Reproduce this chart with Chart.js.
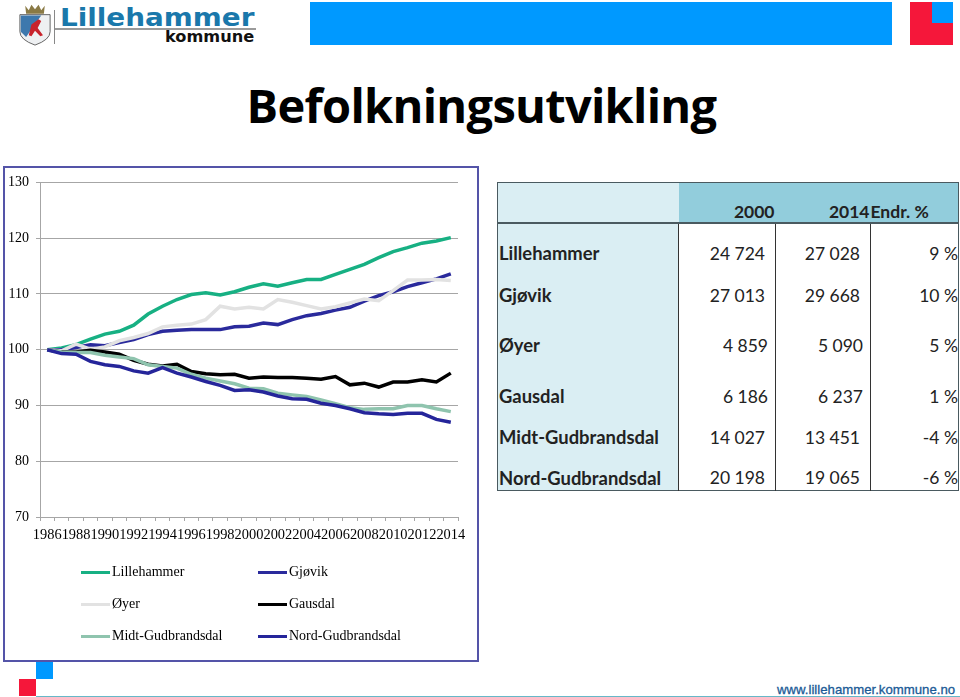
<!DOCTYPE html>
<html lang="no">
<head>
<meta charset="utf-8">
<title>Befolkningsutvikling</title>
<style>
html, body { margin: 0; padding: 0; background: #fff; }
body { position: relative; width: 960px; height: 697px; overflow: hidden; }
.abs { position: absolute; }
#tittel { left: 0; width: 963px; top: 72px; text-align: center; font: bold 47px/66px "Open Sans", sans-serif; letter-spacing: -0.7px; color: #000; }
#ramme { left: 3px; top: 166px; width: 472px; height: 492px; border: 2px solid #5454a8; }
#grafikk { left: 4px; top: 167px; }
#forklaring { left: 0; top: 0; font: 14px "Liberation Serif", serif; color: #000; }
.f-linje { position: absolute; width: 29px; height: 3px; }
.f-tekst { position: absolute; line-height: 16px; white-space: nowrap; }
#tabell { left: 497px; top: 182px; width: 462px; border-collapse: collapse; table-layout: fixed; font: 17.5px "Lato", sans-serif; color: #222; border: 1px solid #4a5a60; }
#tabell td { padding: 0; vertical-align: middle; white-space: nowrap; text-align: right; overflow: visible; }
#tabell tr.hode td { height: 39px; background: #92cddc; font-weight: bold; vertical-align: bottom; border-bottom: 2px solid #4a5a60; }
#tabell td.navn, #tabell tr.hode td.navn { background: #daeef3; font-weight: bold; font-size: 18.4px; text-align: left; padding-left: 1px; }
#tabell td.tall { border-left: 1px solid #333; }
#tabell td.endr { border-left: 1px solid #333; }
</style>
</head>
<body>
<!-- logo -->
<svg class="abs" style="left:19px;top:3px" width="32" height="43" viewBox="0 0 36 48" preserveAspectRatio="none">
  <path d="M7 3 L11 8 L14 2 L18 7 L22 2 L25 8 L29 3 L28 12 L8 12 Z" fill="#8a7a45"/>
  <path d="M1 13 H35 V32 Q35 41 18 47 Q1 41 1 32 Z" fill="#eef0f2" stroke="#555" stroke-width="1"/>
  <path d="M2 14 H25 L8 38 L2 32 Z" fill="#3d78ad"/>
  <path d="M14 24 L22 18 L25 20 L21 28 L27 36 L24 37 L18 31 L14 37 L11 36 Z" fill="#c8232c"/>
</svg>
<div class="abs" style="left:54px;top:10px;width:1px;height:34px;background:#888"></div>
<div class="abs" style="left:60px;top:4px;font:bold 24px/28px 'DejaVu Sans',sans-serif;color:#1a78ab;transform:scaleX(1.16);transform-origin:0 0;white-space:nowrap">Lillehammer</div>
<div class="abs" style="left:55px;top:28px;width:201px;height:2px;background:#9a9a9a"></div>
<div class="abs" style="left:165px;top:27px;font:bold 16.2px/20px 'DejaVu Sans',sans-serif;color:#111">kommune</div>
<div class="abs" style="left:310px;top:2px;width:582px;height:43px;background:#0099ff"></div>
<div class="abs" style="left:910px;top:2px;width:43px;height:43px;background:#f5173a"></div>
<div class="abs" style="left:932px;top:2px;width:21px;height:21px;background:#0099ff"></div>

<div id="tittel" class="abs">Befolkningsutvikling</div>

<div id="ramme" class="abs"></div>
<div id="grafikk" class="abs"><canvas id="grafikkCanvas" width="472" height="400"></canvas></div>
<div id="forklaring" class="abs"></div>

<table id="tabell" class="abs"></table>

<div class="abs" style="left:36px;top:662px;width:17px;height:17px;background:#0099ff"></div>
<div class="abs" style="left:19px;top:679px;width:17px;height:17px;background:#f5173a"></div>
<div class="abs" style="left:36px;top:696px;width:924px;height:1px;background:#66b8c8"></div>
<div class="abs" style="left:777px;top:682px;font:13.2px/16px 'Liberation Sans',sans-serif;color:#1a5a96;-webkit-text-stroke:.3px #1a5a96;white-space:nowrap">www.lillehammer.kommune.no</div>

<script src="https://cdn.jsdelivr.net/npm/chart.js@4"></script>
<script>
// Data lest av bildet
const aar = ['1986','1987','1988','1989','1990','1991','1992','1993','1994','1995','1996','1997','1998','1999','2000',
    '2001','2002','2003','2004','2005','2006','2007','2008','2009','2010','2011','2012','2013','2014'];
const lillehammer = [100,100.3,100.9,101.9,102.8,103.3,104.4,106.4,107.8,109,109.9,110.2,109.8,110.4,111.2,
    111.8,111.4,112,112.6,112.6,113.5,114.4,115.3,116.5,117.6,118.3,119.1,119.5,120.1];
const gjovik = [100,100,100.4,100.9,100.7,101.3,101.8,102.7,103.3,103.5,103.6,103.6,103.6,104.1,104.2,
    104.8,104.5,105.4,106.1,106.5,107.1,107.6,108.7,109.7,110.4,111.3,112,112.7,113.6];
const oyer = [100,99.8,101,100.1,100.5,101.6,102.2,102.9,104.1,104.4,104.6,105.4,107.8,107.3,107.6,
    107.3,109,108.5,107.9,107.3,107.7,108.4,109.1,108.8,110.6,112.5,112.5,112.6,112.4];
const gausdal = [100,99.6,99.6,99.9,99.6,99.2,98.1,97.4,97.1,97.4,96.1,95.7,95.5,95.6,94.9,
    95.1,95,95,94.9,94.7,95.2,93.7,94,93.3,94.2,94.2,94.6,94.2,95.8];
const midtGudbrandsdal = [100,99.6,99.5,99.5,99,98.7,98.4,97.3,97,96.7,95.6,94.9,94.4,93.9,93.1,
    93,92.2,91.9,91.6,91,90.3,89.6,89.3,89.4,89.4,90,90,89.4,88.9];
const nordGudbrandsdal = [100,99.3,99.2,97.9,97.3,97,96.2,95.8,96.8,95.8,95.1,94.3,93.6,92.7,92.8,
    92.4,91.7,91.2,91.1,90.4,90,89.4,88.7,88.5,88.4,88.6,88.6,87.5,87];

// Tabellen til høyre
const tabellKolonner = ['2000', '2014', 'Endr. %'];
const tabellNavn = ['Lillehammer','Gjøvik','Øyer','Gausdal','Midt-Gudbrandsdal','Nord-Gudbrandsdal'];
const tall2000 = ['24 724','27 013','4 859','6 186','14 027','20 198'];
const tall2014 = ['27 028','29 668','5 090','6 237','13 451','19 065'];
const endring = ['9 %','10 %','5 %','1 %','-4 %','-6 %'];

const serier = [
    { navn: 'Lillehammer', data: lillehammer, farge: '#17b083' },
    { navn: 'Gjøvik', data: gjovik, farge: '#2a2a9c' },
    { navn: 'Øyer', data: oyer, farge: '#e2e2e2' },
    { navn: 'Gausdal', data: gausdal, farge: '#000000' },
    { navn: 'Midt-Gudbrandsdal', data: midtGudbrandsdal, farge: '#8fc4ae' },
    { navn: 'Nord-Gudbrandsdal', data: nordGudbrandsdal, farge: '#25259a' }
];

// Bygger tabellen
const radHoyder = [52, 38, 62, 40, 42, 32];
const ekstraTopp = [6, 0, 0, 0, 0, 7];
let html = '<colgroup><col style="width:181px"><col style="width:97px"><col style="width:95px"><col></colgroup>';
html += '<tr class="hode"><td class="navn"></td>'
    + '<td style="padding-right:1px">' + tabellKolonner[0] + '</td>'
    + '<td style="padding-right:1px">' + tabellKolonner[1] + '</td>'
    + '<td style="text-align:left">' + tabellKolonner[2] + '</td></tr>';
tabellNavn.forEach((navn, i) => {
    const stil = 'height:' + (radHoyder[i] - ekstraTopp[i]) + 'px;padding-top:' + ekstraTopp[i] + 'px;';
    const hoyrePad = (navn === 'Øyer' || navn === 'Gausdal') ? 7 : 10;
    html += '<tr><td class="navn" style="' + stil + '">' + navn + '</td>'
        + '<td class="tall" style="' + stil + 'padding-right:' + hoyrePad + 'px">' + tall2000[i] + '</td>'
        + '<td class="tall" style="' + stil + 'padding-right:' + hoyrePad + 'px">' + tall2014[i] + '</td>'
        + '<td class="endr" style="' + stil + '">' + endring[i] + '</td></tr>';
});
document.getElementById('tabell').innerHTML = html;

// Forklaring, to kolonner
const forklaring = document.getElementById('forklaring');
const radY = [572, 604, 636];
const kolX = [81, 258];
serier.forEach((s, i) => {
    const x = kolX[i % 2];
    const y = radY[Math.floor(i / 2)];
    forklaring.innerHTML += '<div class="f-linje" style="left:' + x + 'px;top:' + (y - 1) + 'px;background:' + s.farge + '"></div>'
        + '<div class="f-tekst" style="left:' + (x + 31) + 'px;top:' + (y - 8) + 'px">' + s.navn + '</div>';
});

Chart.defaults.font.family = '"Liberation Serif", serif';
Chart.defaults.color = '#000';

new Chart(document.getElementById('grafikkCanvas').getContext('2d'), {
    type: 'line',
    data: {
        labels: aar,
        datasets: serier.map((s, i) => ({
            label: s.navn,
            data: s.data,
            borderColor: s.farge,
            backgroundColor: s.farge,
            borderWidth: 3.5,
            pointRadius: 0,
            tension: 0,
            fill: false,
            order: serier.length - i // siste serie skal ligge øverst
        }))
    },
    options: {
        responsive: false,
        animation: false,
        layout: { padding: { top: 15, right: 18, left: 0, bottom: 0 } },
        plugins: { legend: { display: false }, title: { display: false }, tooltip: { enabled: false } },
        scales: {
            x: {
                offset: true,
                grid: { offset: true, drawOnChartArea: false, color: '#a6a6a6', tickLength: 4 },
                border: { color: '#a6a6a6' },
                afterFit: scale => { scale.height = 50; },
                ticks: {
                    autoSkip: false,
                    maxRotation: 0,
                    minRotation: 0,
                    padding: 6,
                    font: { size: 14.4 },
                    callback: (v, i) => (i % 2 === 0 ? aar[i] : '')
                }
            },
            y: {
                min: 70,
                max: 130,
                afterFit: scale => { scale.width = 36; },
                grid: { color: '#a6a6a6', tickLength: 4 },
                border: { color: '#a6a6a6' },
                ticks: { stepSize: 10, padding: 7, font: { size: 14 } }
            }
        }
    }
});
</script>
</body>
</html>
